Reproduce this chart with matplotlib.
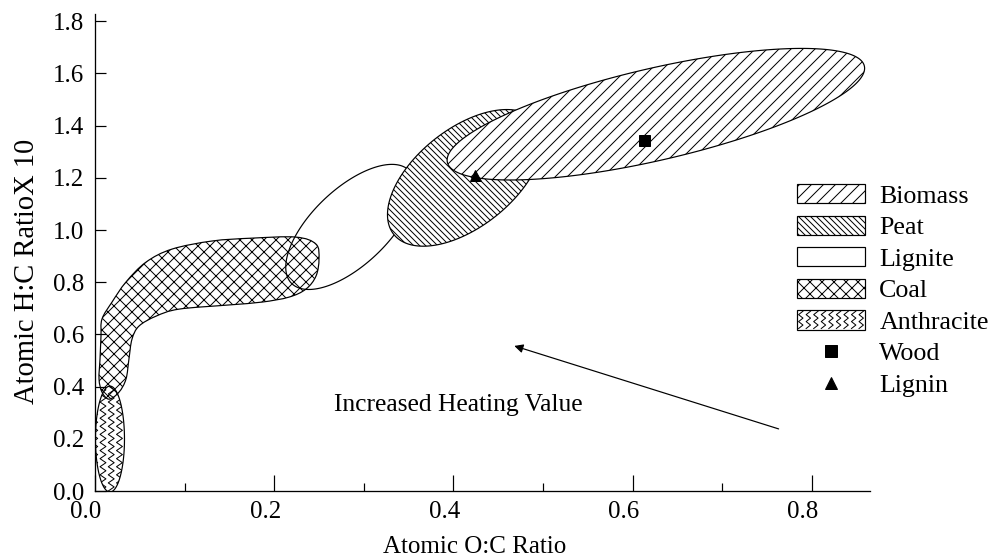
import numpy as np
import matplotlib
matplotlib.use("Agg")
import matplotlib.pyplot as plt
from matplotlib.patches import Polygon, Rectangle, PathPatch
from matplotlib.path import Path
from matplotlib.lines import Line2D
from matplotlib.legend_handler import HandlerBase
import matplotlib.transforms as mtransforms

plt.rcParams['font.family'] = ['Liberation Serif', 'DejaVu Serif']
plt.rcParams['hatch.linewidth'] = 1.0
plt.rcParams['hatch.color'] = 'black'

# ---------------- data ----------------
# ellipse regions: centre, semi-major vector, semi-minor vector (data units)
biomass_center = (0.626, 1.444)
biomass_u = (0.2327, 0.1847)
biomass_v = (0.0116, -0.1716)

peat_center = (0.413, 1.200)
peat_u = (0.0787, 0.2200)
peat_v = (0.0360, -0.1420)

lignite_center = (0.285, 1.012)
lignite_u = (0.0660, 0.2150)
lignite_v = (0.0290, -0.1060)

anthracite_center = (0.0167, 0.199)
anthracite_u = (0.0, 0.203)
anthracite_v = (0.0162, 0.0)

# coal region outline (O:C, H:C)
coal_x = [0.0078, 0.0190, 0.0346, 0.0569, 0.0859, 0.1306, 0.1752, 0.2243, 0.2467,
          0.2500, 0.2467, 0.2355, 0.2165, 0.1864, 0.1496, 0.0938, 0.0681, 0.0491,
          0.0413, 0.0379, 0.0346, 0.0268, 0.0156, 0.0078, 0.0045, 0.0056, 0.0067]
coal_y = [0.659, 0.724, 0.801, 0.877, 0.927, 0.958, 0.969, 0.973, 0.946,
          0.889, 0.824, 0.774, 0.743, 0.724, 0.713, 0.697, 0.670, 0.632,
          0.582, 0.506, 0.429, 0.379, 0.352, 0.379, 0.429, 0.506, 0.594]

wood_x, wood_y = [0.613], [1.345]
lignin_x, lignin_y = [0.424], [1.21]

arrow_tail = (0.763, 0.238)
arrow_head = (0.468, 0.556)
arrow_text = "Increased Heating Value"
arrow_text_pos = (0.267, 0.33)

legend_labels = ["Biomass", "Peat", "Lignite", "Coal", "Anthracite", "Wood", "Lignin"]
xticks_major = [0.0, 0.2, 0.4, 0.6, 0.8]
xticks_minor = [0.1, 0.3, 0.5, 0.7]
yticks = [0.0, 0.2, 0.4, 0.6, 0.8, 1.0, 1.2, 1.4, 1.6, 1.8]
xlabel = "Atomic O:C Ratio"
ylabel = "Atomic H:C RatioX 10"

HATCH_BIO = '//'
HATCH_PEAT = '\\\\\\\\'
HATCH_COAL = 'xx'


def ellipse_pts(c, u, v, n=240):
    t = np.linspace(0, 2 * np.pi, n)
    x = c[0] + u[0] * np.cos(t) + v[0] * np.sin(t)
    y = c[1] + u[1] * np.cos(t) + v[1] * np.sin(t)
    return np.column_stack([x, y])


def smooth_closed_path(xs, ys):
    """Closed Bezier path through the outline points (Catmull-Rom tangents)."""
    P = np.column_stack([xs, ys])
    n = len(P)
    verts = [P[0]]
    codes = [Path.MOVETO]
    for i in range(n):
        p0, p1, p2, p3 = P[i - 1], P[i], P[(i + 1) % n], P[(i + 2) % n]
        c1 = p1 + (p2 - p0) / 6.0
        c2 = p2 - (p3 - p1) / 6.0
        verts += [c1, c2, p2]
        codes += [Path.CURVE4] * 3
    verts.append(P[0])
    codes.append(Path.CLOSEPOLY)
    return Path(verts, codes)


DPI = 72
fig = plt.figure(figsize=(994 / DPI, 558 / DPI), dpi=DPI)
ax = fig.add_axes([95 / 994, 1 - 491 / 558, 775 / 994, 477 / 558])
ax.set_xlim(0, 0.865)
ax.set_ylim(0, 1.828)

lw = 1.2
# anthracite with zigzag pattern
anth = Polygon(ellipse_pts(anthracite_center, anthracite_u, anthracite_v),
               closed=True, facecolor='white', edgecolor='black', lw=lw, zorder=2)
ax.add_patch(anth)
xmin = anthracite_center[0] - abs(anthracite_v[0]) - 0.01
xmax = anthracite_center[0] + abs(anthracite_v[0]) + 0.01
ys = np.arange(0, 0.45, 0.0155)
for cx in np.arange(xmin, xmax, 0.0092):
    xs = cx + np.where(np.arange(len(ys)) % 2 == 0, -0.0033, 0.0033)
    ln, = ax.plot(xs, ys, color='black', lw=1.0, zorder=2.1)
    ln.set_clip_path(anth)

# coal
coal = PathPatch(smooth_closed_path(coal_x, coal_y), facecolor='none',
                 edgecolor='black', lw=lw, hatch=HATCH_COAL, zorder=2.5)
ax.add_patch(coal)

# lignite (outline only)
lig = Polygon(ellipse_pts(lignite_center, lignite_u, lignite_v), closed=True,
              facecolor='none', edgecolor='black', lw=lw, zorder=3)
ax.add_patch(lig)

# peat
peat = Polygon(ellipse_pts(peat_center, peat_u, peat_v), closed=True,
               facecolor='white', edgecolor='black', lw=lw, hatch=HATCH_PEAT, zorder=4)
ax.add_patch(peat)

# biomass
bio = Polygon(ellipse_pts(biomass_center, biomass_u, biomass_v), closed=True,
              facecolor='white', edgecolor='black', lw=lw, hatch=HATCH_BIO, zorder=5)
ax.add_patch(bio)

ax.plot(wood_x, wood_y, ls='none', marker='s', ms=11, color='black', zorder=6)
ax.plot(lignin_x, lignin_y, ls='none', marker='^', ms=11, color='black', zorder=6)

ax.annotate("", xy=arrow_head, xytext=arrow_tail,
            arrowprops=dict(arrowstyle='-|>', color='black', lw=1.2,
                            mutation_scale=18, shrinkA=0, shrinkB=0))
ax.text(arrow_text_pos[0], arrow_text_pos[1], arrow_text, fontsize=25.5,
        ha='left', va='center')

# axes styling
for s in ['top', 'right']:
    ax.spines[s].set_visible(False)
for s in ['left', 'bottom']:
    ax.spines[s].set_linewidth(1.3)
ax.set_xticks(xticks_major)
ax.set_xticks(xticks_minor, minor=True)
ax.set_xticklabels([f"{v:.1f}" for v in xticks_major])
ax.set_yticks(yticks)
ax.set_yticklabels([f"{v:.1f}" for v in yticks])
ax.tick_params(axis='x', which='major', direction='in', length=16, width=1.2,
               labelsize=25, pad=10)
ax.tick_params(axis='x', which='minor', direction='in', length=8, width=1.2)
ax.tick_params(axis='y', which='major', direction='in', length=11, width=1.2,
               labelsize=25, pad=11)
shift = mtransforms.ScaledTranslation(-9 / 72, 0, fig.dpi_scale_trans)
for lab in ax.get_xticklabels():
    lab.set_transform(lab.get_transform() + shift)

ax.set_xlabel(xlabel, fontsize=25)
ax.xaxis.set_label_coords(0.49, -0.130)
ax.xaxis.label.set_va('baseline')
ax.set_ylabel(ylabel, fontsize=28.5)
ax.yaxis.set_label_coords(-0.071, 0.461)


# legend
class HandlerZigzag(HandlerBase):
    def create_artists(self, legend, orig_handle, xdescent, ydescent, width,
                       height, fontsize, trans):
        x0, y0 = -xdescent, -ydescent
        rect = Rectangle((x0, y0), width, height, facecolor='white',
                         edgecolor='black', lw=lw, transform=trans)
        arts = [rect]
        ncol = int(width / 7)
        yy = np.linspace(y0 + 1, y0 + height - 1, 6)
        for i in range(ncol):
            cx = x0 + (i + 0.5) * width / ncol
            xx = cx + np.where(np.arange(len(yy)) % 2 == 0, -2.2, 2.2)
            arts.append(Line2D(xx, yy, color='black', lw=1.0, transform=trans))
        return arts


h_bio = Rectangle((0, 0), 1, 1, facecolor='white', edgecolor='black', lw=lw, hatch=HATCH_BIO)
h_peat = Rectangle((0, 0), 1, 1, facecolor='white', edgecolor='black', lw=lw, hatch=HATCH_PEAT)
h_lig = Rectangle((0, 0), 1, 1, facecolor='white', edgecolor='black', lw=lw)
h_coal = Rectangle((0, 0), 1, 1, facecolor='white', edgecolor='black', lw=lw, hatch=HATCH_COAL)
h_anth = Rectangle((0, 0), 1, 1, facecolor='white', edgecolor='black', lw=lw)
h_wood = Line2D([], [], ls='none', marker='s', ms=12, color='black')
h_lign = Line2D([], [], ls='none', marker='^', ms=12, color='black')

leg = fig.legend([h_bio, h_peat, h_lig, h_coal, h_anth, h_wood, h_lign], legend_labels,
                 loc='upper left', bbox_to_anchor=(797 / 994, 1 - 184 / 558),
                 bbox_transform=fig.transFigure, frameon=False, fontsize=26,
                 handlelength=68 / 26, handleheight=20 / 26, handletextpad=0.55,
                 labelspacing=0.3, borderpad=0, borderaxespad=0,
                 handler_map={h_anth: HandlerZigzag()})

fig.savefig("out.png", dpi=DPI)
